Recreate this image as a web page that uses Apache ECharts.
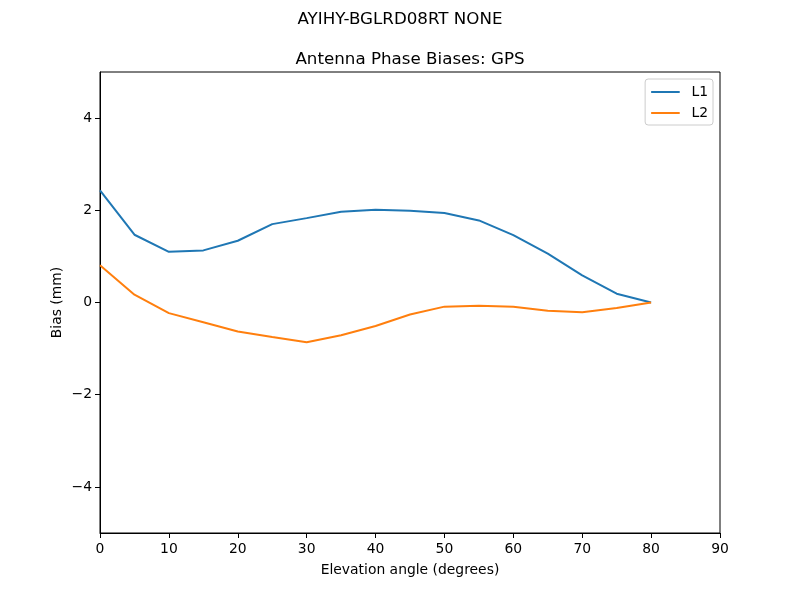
<!DOCTYPE html>
<html><head><meta charset="utf-8">
<script src="https://cdn.jsdelivr.net/npm/echarts@6/dist/echarts.min.js"></script>
<style>html,body{margin:0;padding:0;background:#fff}#c{width:800px;height:600px}</style>
</head><body><div id="c"></div>
<script>
const elevation = [0,5,10,15,20,25,30,35,40,45,50,55,60,65,70,75,80];
const L1 = [2.43,1.47,1.10,1.13,1.34,1.70,1.83,1.97,2.01,1.99,1.94,1.78,1.46,1.06,0.59,0.19,0.0];
const L2 = [0.81,0.17,-0.23,-0.43,-0.63,-0.75,-0.86,-0.71,-0.51,-0.26,-0.09,-0.07,-0.09,-0.18,-0.21,-0.12,0.0];
const yTicks = [-4,-2,0,2,4];
const xTicks = [0,10,20,30,40,50,60,70,80,90];
const FONT = 'DejaVu Sans';
const chart = echarts.init(document.getElementById('c'));
chart.setOption({
  animation: false,
  backgroundColor: '#fff',
  textStyle: {fontFamily: FONT},
  title: [
    {text: 'AYIHY-BGLRD08RT NONE', left: 'center', top: 6, textStyle: {fontFamily: FONT, fontSize: 16.7, fontWeight: 'normal', color: '#000'}},
    {text: 'Antenna Phase Biases: GPS', left: 405, textAlign: 'center', top: 46, textStyle: {fontFamily: FONT, fontSize: 16.7, fontWeight: 'normal', color: '#000'}}
  ],
  legend: {
    orient: 'vertical', right: 87, top: 79,
    data: ['L1','L2'],
    icon: 'path://M0,0 L1,0 L1,0.07 L0,0.07 Z',
    itemWidth: 30, itemHeight: 2, itemGap: 5,
    padding: [5, 5, 4, 6],
    borderColor: '#ccc', borderWidth: 1, borderRadius: 3,
    textStyle: {fontFamily: FONT, fontSize: 13.9, color: '#000', lineHeight: 16, padding: [0, 0, 0, 6]}
  },
  grid: {left: 100, right: 80, top: 72, bottom: 67, show: true, borderColor: '#000', borderWidth: 1, backgroundColor: 'transparent'},
  xAxis: {
    type: 'value', min: 0, max: 90, interval: 10,
    name: 'Elevation angle (degrees)', nameLocation: 'middle', nameGap: 30,
    nameTextStyle: {fontFamily: FONT, fontSize: 13.9, color: '#000'},
    axisLine: {show: true, onZero: false, lineStyle: {color: '#000'}},
    axisTick: {show: true, length: 5, lineStyle: {color: '#000'}, customValues: xTicks},
    axisLabel: {color: '#000', fontFamily: FONT, fontSize: 13.9, margin: 9, customValues: xTicks},
    splitLine: {show: false}
  },
  yAxis: {
    type: 'value', min: -5, max: 5,
    name: 'Bias (mm)', nameLocation: 'middle', nameGap: 36, nameMoveOverlap: false,
    nameTextStyle: {fontFamily: FONT, fontSize: 13.9, color: '#000'},
    axisLine: {show: true, onZero: false, lineStyle: {color: '#000'}},
    axisTick: {show: true, length: 5, lineStyle: {color: '#000'}, customValues: yTicks},
    axisLabel: {color: '#000', fontFamily: FONT, fontSize: 13.9, margin: 8, customValues: yTicks,
      formatter: v => (v < 0 ? '\u2212' + Math.abs(v) : String(v))},
    splitLine: {show: false}
  },
  series: [
    {name: 'L1', type: 'line', data: elevation.map((e,i)=>[e, L1[i]]), showSymbol: false, symbol: 'none', lineStyle: {color: '#1f77b4', width: 2}, itemStyle: {color: '#1f77b4'}},
    {name: 'L2', type: 'line', data: elevation.map((e,i)=>[e, L2[i]]), showSymbol: false, symbol: 'none', lineStyle: {color: '#ff7f0e', width: 2}, itemStyle: {color: '#ff7f0e'}}
  ]
});
</script></body></html>
